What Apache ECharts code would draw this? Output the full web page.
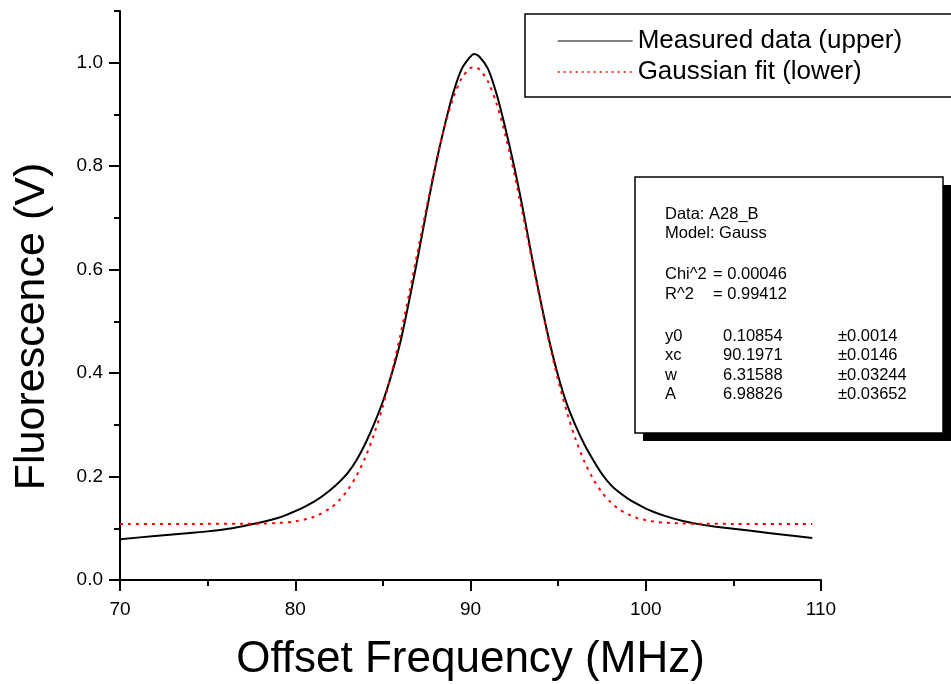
<!DOCTYPE html>
<html>
<head>
<meta charset="utf-8">
<title>Fluorescence vs offset frequency</title>
<script src="https://cdn.jsdelivr.net/npm/echarts@6/dist/echarts.min.js"></script>
<style>
html, body { margin: 0; padding: 0; background: #fff; }
#chart { width: 951px; height: 684px; }
</style>
</head>
<body>
<div id="chart"></div>
<script>
// measured trace (black)
const measuredFreq = [70, 72, 74, 75, 76, 77, 78, 79, 79.5, 80, 80.5, 81, 81.5, 82, 82.5, 83, 83.5, 84, 84.5, 85, 85.5, 86, 86.5, 87, 87.5, 88, 88.5, 89, 89.5, 90, 90.2, 90.5, 91, 91.5, 92, 92.5, 93, 93.5, 94, 94.5, 95, 95.5, 96, 96.5, 97, 97.5, 98, 98.5, 99, 99.5, 100, 100.5, 101, 102, 103, 104, 106, 108, 109.5]
const measuredVolt = [0.079, 0.085, 0.091, 0.094, 0.098, 0.104, 0.111, 0.120, 0.126, 0.133, 0.141, 0.150, 0.161, 0.174, 0.189, 0.207, 0.232, 0.264, 0.302, 0.345, 0.398, 0.460, 0.540, 0.625, 0.715, 0.800, 0.875, 0.940, 0.988, 1.012, 1.017, 1.012, 0.988, 0.938, 0.872, 0.798, 0.715, 0.625, 0.540, 0.462, 0.395, 0.340, 0.298, 0.262, 0.232, 0.205, 0.184, 0.169, 0.157, 0.147, 0.138, 0.131, 0.125, 0.115, 0.108, 0.103, 0.095, 0.087, 0.081]

// gaussian fit (red dotted)
const fitFreq = [70, 74, 77, 78, 79, 80, 81, 82, 82.5, 83, 83.5, 84, 84.5, 85, 85.5, 86, 86.5, 87, 87.5, 88, 88.5, 89, 89.5, 90, 90.2, 90.5, 91, 91.5, 92, 92.5, 93, 93.5, 94, 94.5, 95, 95.5, 96, 96.5, 97, 97.5, 98, 98.5, 99, 99.5, 100, 100.5, 101, 101.5, 102, 103, 105, 109.5]
const fitVolt = [0.1085, 0.1085, 0.1086, 0.1090, 0.1102, 0.1134, 0.1212, 0.1389, 0.1538, 0.1743, 0.2017, 0.2373, 0.2820, 0.3365, 0.4007, 0.4737, 0.5535, 0.6374, 0.7216, 0.8016, 0.8727, 0.9302, 0.9702, 0.9897, 0.9914, 0.9874, 0.9634, 0.9194, 0.8587, 0.7853, 0.7040, 0.6195, 0.5361, 0.4575, 0.3863, 0.3241, 0.2718, 0.2290, 0.1953, 0.1694, 0.1502, 0.1363, 0.1267, 0.1200, 0.1157, 0.1128, 0.1111, 0.1100, 0.1094, 0.1087, 0.1085, 0.1085]

const xMajorTicks = [70, 80, 90, 100, 110]
const xMinorTicks = [75, 85, 95, 105]
const yMajorTicks = [0, 0.2, 0.4, 0.6, 0.8, 1.0]
const yMinorTicks = [0.1, 0.3, 0.5, 0.7, 0.9, 1.1]

const seriesNames = ['Measured data (upper)', 'Gaussian fit (lower)']

// fit report box text
const infoHead = ['Data: A28_B', 'Model: Gauss']
const infoStats = [['Chi^2', '= 0.00046'], ['R^2', '= 0.99412']]
const infoParams = [
  ['y0', '0.10854', '\u00b10.0014'],
  ['xc', '90.1971', '\u00b10.0146'],
  ['w', '6.31588', '\u00b10.03244'],
  ['A', '6.98826', '\u00b10.03652']
]

const FONT = '"Liberation Sans", Arial, sans-serif'

function infoText(str, x, y) {
  return {
    type: 'text',
    x: x,
    y: y,
    z: 20,
    style: { text: str, fill: '#000', fontSize: 16.5, fontFamily: FONT, verticalAlign: 'middle' }
  }
}

const graphic = [
  { type: 'rect', z: 18, shape: { x: 643, y: 185, width: 308, height: 256 }, style: { fill: '#000' } },
  { type: 'rect', z: 19, shape: { x: 635, y: 177, width: 308, height: 256 }, style: { fill: '#fff', stroke: '#000', lineWidth: 1.5 } }
]
infoHead.forEach((t, i) => graphic.push(infoText(t, 665, 214 + i * 19)))
infoStats.forEach((r, i) => {
  graphic.push(infoText(r[0], 665, 274 + i * 20))
  graphic.push(infoText(r[1], 713, 274 + i * 20))
})
infoParams.forEach((r, i) => {
  graphic.push(infoText(r[0], 665, 336 + i * 19.5))
  graphic.push(infoText(r[1], 723, 336 + i * 19.5))
  graphic.push(infoText(r[2], 838, 336 + i * 19.5))
})

const axisLine = { show: true, lineStyle: { color: '#000', width: 2 } }

const option = {
  animation: false,
  backgroundColor: '#fff',
  grid: { left: 120, right: 130, top: 11, bottom: 104, outerBoundsMode: 'none' },
  legend: {
    orient: 'vertical',
    left: 525,
    top: 14,
    padding: [13, 60, 11, 32],
    itemWidth: 75,
    itemHeight: 2,
    itemGap: 3,
    borderColor: '#000',
    borderWidth: 1.5,
    selectedMode: false,
    itemStyle: { opacity: 0 },
    lineStyle: { width: 1 },
    textStyle: { fontSize: 26, fontFamily: FONT, color: '#000', lineHeight: 28 },
    data: [
      { name: seriesNames[0] },
      { name: seriesNames[1], lineStyle: { width: 1.3, type: [2, 4] } }
    ]
  },
  xAxis: [
    {
      type: 'value',
      min: 70,
      max: 110,
      interval: 10,
      name: 'Offset Frequency (MHz)',
      nameLocation: 'middle',
      nameGap: 58,
      nameTextStyle: { fontSize: 44, fontFamily: FONT, color: '#000' },
      axisLine: axisLine,
      axisTick: { show: true, length: 11, customValues: xMajorTicks, lineStyle: { color: '#000', width: 2 } },
      axisLabel: { customValues: xMajorTicks, margin: 20, fontSize: 19, fontFamily: FONT, color: '#000' },
      splitLine: { show: false }
    },
    {
      type: 'value',
      min: 70,
      max: 110,
      interval: 5,
      position: 'bottom',
      axisLine: { show: false },
      axisTick: { show: true, length: 6, customValues: xMinorTicks, lineStyle: { color: '#000', width: 2 } },
      axisLabel: { show: false },
      splitLine: { show: false }
    }
  ],
  yAxis: [
    {
      type: 'value',
      min: 0,
      max: 1.1,
      interval: 0.1,
      name: 'Fluorescence (V)',
      nameLocation: 'middle',
      nameGap: 66,
      nameTextStyle: { fontSize: 43, fontFamily: FONT, color: '#000', padding: [0, 62, 0, 0] },
      axisLine: axisLine,
      axisTick: { show: true, length: 11, customValues: yMajorTicks, lineStyle: { color: '#000', width: 2 } },
      axisLabel: {
        customValues: yMajorTicks,
        margin: 17,
        fontSize: 19,
        fontFamily: FONT,
        color: '#000',
        formatter: v => v.toFixed(1)
      },
      splitLine: { show: false }
    },
    {
      type: 'value',
      min: 0,
      max: 1.1,
      interval: 0.1,
      position: 'left',
      axisLine: { show: false },
      axisTick: { show: true, length: 6, customValues: yMinorTicks, lineStyle: { color: '#000', width: 2 } },
      axisLabel: { show: false },
      splitLine: { show: false }
    }
  ],
  series: [
    {
      name: seriesNames[0],
      type: 'line',
      symbol: 'none',
      smooth: 0.3,
      z: 3,
      itemStyle: { color: '#000' },
      lineStyle: { color: '#000', width: 2 },
      data: measuredFreq.map((f, i) => [f, measuredVolt[i]])
    },
    {
      name: seriesNames[1],
      type: 'line',
      symbol: 'none',
      smooth: 0.3,
      z: 4,
      itemStyle: { color: '#ff0000' },
      lineStyle: { color: '#ff0000', width: 2, type: [3, 5] },
      data: fitFreq.map((f, i) => [f, fitVolt[i]])
    }
  ],
  graphic: graphic
}

const myChart = echarts.init(document.getElementById('chart'))
myChart.setOption(option)
</script>
</body>
</html>
